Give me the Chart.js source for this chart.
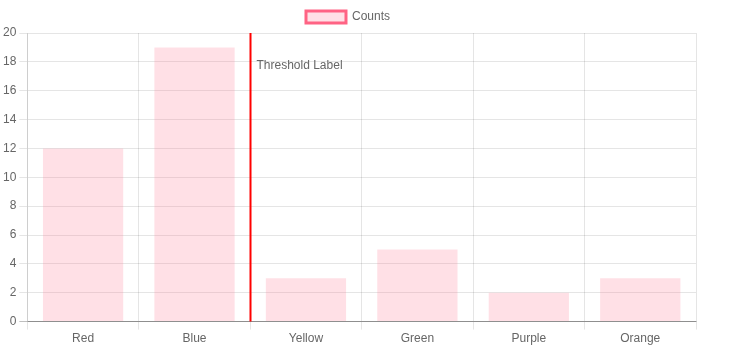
<!DOCTYPE html>
<html>
<head>
<meta charset="utf-8">
<script src="https://cdn.jsdelivr.net/npm/chart.js@4/dist/chart.umd.min.js"></script>
<style>
  body { margin: 0; background: #fff; }
  #wrap { width: 700px; height: 348px; }
</style>
</head>
<body>
<div id="wrap"><canvas id="myChart"></canvas></div>
<script>
const labels = ['Red', 'Blue', 'Yellow', 'Green', 'Purple', 'Orange'];
const counts = [12, 19, 3, 5, 2, 3];
const yTicks = [0, 2, 4, 6, 8, 10, 12, 14, 16, 18, 20];
const thresholdAt = 1.5;
const thresholdText = 'Threshold Label';

Chart.defaults.font.family = '"Liberation Sans", Arial, Helvetica, sans-serif';
Chart.defaults.font.size = 12;
Chart.defaults.color = '#666';

// vertical line with a label, like an annotation
const thresholdLine = {
  id: 'thresholdLine',
  afterDatasetsDraw(chart) {
    const { ctx, chartArea, scales } = chart;
    const x = Math.round(scales.x.getPixelForValue(thresholdAt)) + 0.5;
    ctx.save();
    ctx.strokeStyle = 'red';
    ctx.lineWidth = 2;
    ctx.beginPath();
    ctx.moveTo(x, chartArea.top);
    ctx.lineTo(x, chartArea.bottom);
    ctx.stroke();
    ctx.fillStyle = '#666';
    ctx.font = '12px "Liberation Sans", Arial, sans-serif';
    ctx.textBaseline = 'middle';
    ctx.fillText(thresholdText, x + 6, chartArea.top + 33);
    ctx.restore();
  }
};

const data = {
  labels: labels,
  datasets: [{
    label: 'Counts',
    data: counts,
    backgroundColor: 'rgba(255, 99, 132, 0.2)',
    borderColor: 'rgba(255, 99, 132, 0.2)',
    borderWidth: 0
  }]
};

const config = {
  type: 'bar',
  data: data,
  options: {
    responsive: true,
    maintainAspectRatio: false,
    animation: false,
    layout: { padding: { top: 1, right: 4 } },
    plugins: {
      legend: {
        labels: {
          boxWidth: 40,
          generateLabels(chart) {
            const items = Chart.defaults.plugins.legend.labels.generateLabels(chart);
            items.forEach(it => {
              it.strokeStyle = 'rgba(255, 99, 132, 1)';
              it.lineWidth = 3;
            });
            return items;
          }
        }
      },
      tooltip: { enabled: false }
    },
    scales: {
      x: {
        ticks: { padding: 2 },
        grid: { color: 'rgba(0,0,0,0.1)', offset: true },
        border: { color: 'rgba(0,0,0,0.25)' }
      },
      y: {
        min: 0,
        max: 20,
        afterBuildTicks(axis) {
          axis.ticks = yTicks.map(v => ({ value: v }));
        },
        grid: {
          color: ctx => ctx.tick && ctx.tick.value === 0 ? 'rgba(0,0,0,0.25)' : 'rgba(0,0,0,0.1)'
        },
        border: { color: 'rgba(0,0,0,0.1)' }
      }
    }
  },
  plugins: [thresholdLine]
};

new Chart(document.getElementById('myChart').getContext('2d'), config);
</script>
</body>
</html>
